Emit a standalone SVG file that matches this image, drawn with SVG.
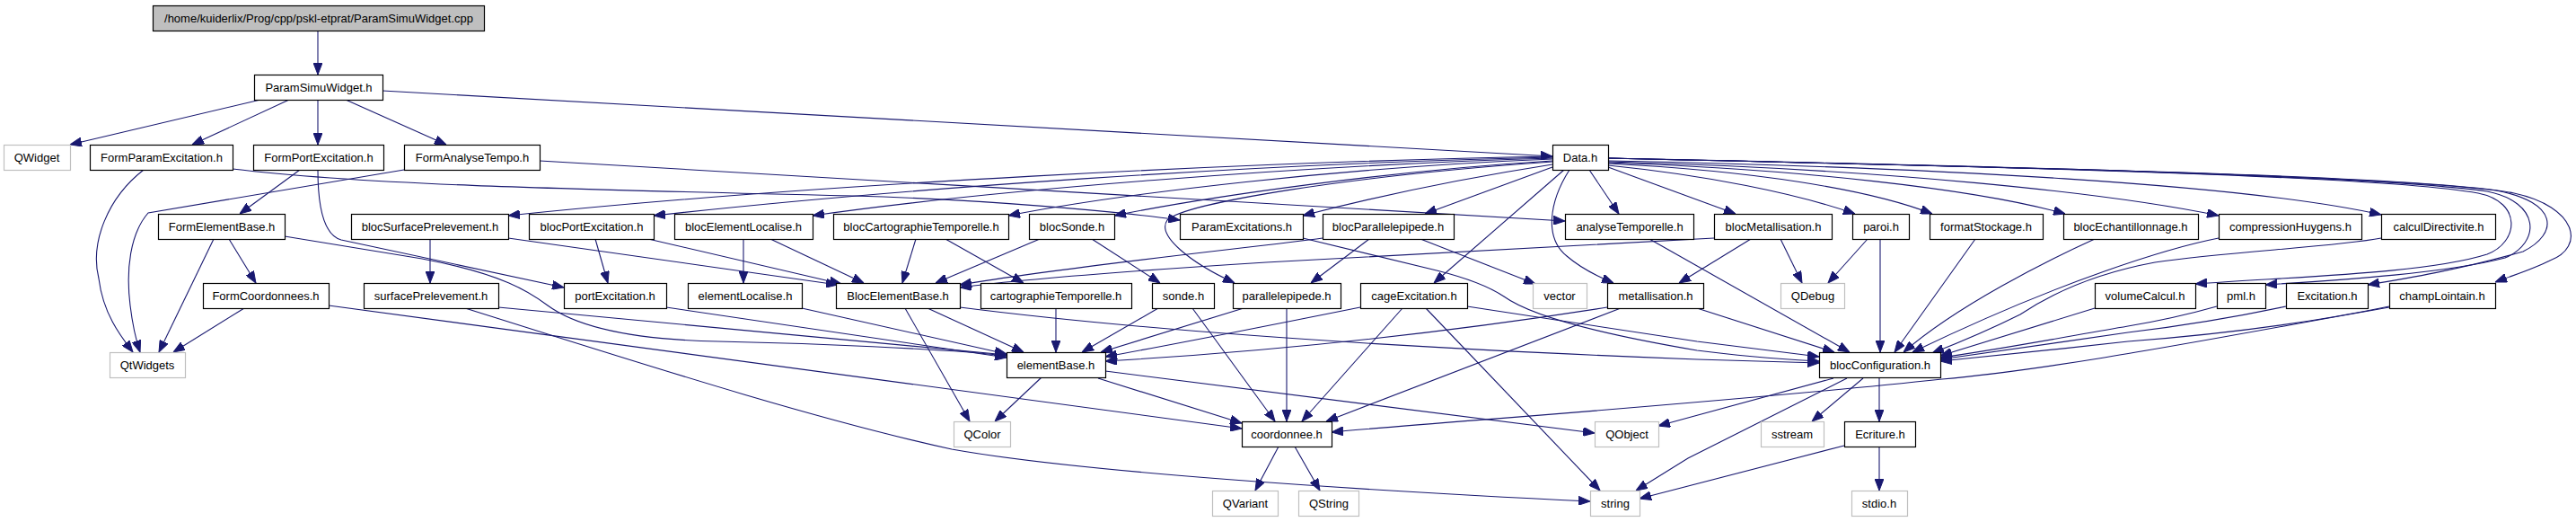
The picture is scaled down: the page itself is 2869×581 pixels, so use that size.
<svg xmlns="http://www.w3.org/2000/svg" width="2869" height="581" viewBox="0 0 2869 581">
<defs>
<marker id="a" markerWidth="13" markerHeight="10" refX="13" refY="5" orient="auto" markerUnits="userSpaceOnUse"><path d="M0,0 L13,5 L0,10 z" fill="#191970" stroke="#191970" stroke-width="1"/></marker>
<style>
.n rect{fill:#fff;stroke:#000;stroke-width:1.2}
.r rect{fill:#bfbfbf;stroke:#000;stroke-width:1.2}
.g rect{fill:#fff;stroke:#bfbfbf;stroke-width:1.2}
text{font-family:"Liberation Sans",Arial,sans-serif;font-size:13px;text-anchor:middle;fill:#000}
#edges path{fill:none;stroke:#191970;stroke-width:1.1;marker-end:url(#a)}
</style>
</defs>
<rect width="2869" height="581" fill="#fff"/>
<g id="edges">
<path d="M354,34 L354,83"/>
<path d="M290,111 L78,161"/>
<path d="M322,111 L214,161"/>
<path d="M354,111 L354,161"/>
<path d="M385,111 L497,161"/>
<path d="M426,101 L1729,174"/>
<path d="M160,189 C120,220 100,270 110,310 C115,350 135,375 148,392"/>
<path d="M259,188 C400,205 600,210 950,218 C1100,222 1250,236 1314,245"/>
<path d="M334,189 L267,238"/>
<path d="M354,189 C354,235 362,262 380,267 L628,320"/>
<path d="M450,189 L165,237 C145,260 140,300 145,340 C148,365 152,380 156,392"/>
<path d="M601,179 L1743,246"/>
<path d="M238,266 L177,392"/>
<path d="M255,266 L285,315"/>
<path d="M317,263 L470,288 C560,305 590,325 610,340 C640,362 700,378 800,380 C900,382 1050,388 1121,396"/>
<path d="M272,343 L193,392"/>
<path d="M366,340 L1383,477"/>
<path d="M1729,174 C1400,180 900,205 566,240"/>
<path d="M1729,175 C1400,182 1000,210 728,240"/>
<path d="M1729,176 C1450,184 1100,212 905,240"/>
<path d="M1729,177 C1500,186 1250,215 1123,240"/>
<path d="M1729,179 C1550,190 1350,218 1241,240"/>
<path d="M1729,183 C1620,200 1520,222 1451,240"/>
<path d="M1729,186 L1587,238"/>
<path d="M1729,180 C1500,196 1320,226 1300,245 C1288,262 1325,292 1375,315"/>
<path d="M1742,189 L1597,315"/>
<path d="M1770,189 L1803,238"/>
<path d="M1748,189 C1725,225 1720,265 1745,285 C1760,298 1780,308 1797,315"/>
<path d="M1791,186 L1933,238"/>
<path d="M1791,184 C1900,195 2000,215 2066,238"/>
<path d="M1791,182 C1950,190 2080,210 2152,238"/>
<path d="M1791,181 C2000,188 2200,210 2300,238"/>
<path d="M1791,180 C2100,188 2350,215 2471,240"/>
<path d="M1791,179 C2150,186 2500,205 2652,239"/>
<path d="M1791,176 C2200,185 2650,195 2760,215 C2810,225 2805,270 2770,283 C2700,305 2550,308 2445,316"/>
<path d="M1791,176 C2200,185 2650,195 2770,213 C2830,225 2830,270 2790,287 C2720,305 2600,312 2523,317"/>
<path d="M1791,176 C2200,185 2650,195 2780,212 C2850,225 2850,260 2810,280 C2740,300 2680,310 2637,317"/>
<path d="M1791,176 C2200,185 2700,195 2800,215 C2870,230 2880,275 2840,290 C2820,300 2800,306 2779,314"/>
<path d="M479,266 L479,315"/>
<path d="M566,265 L933,317"/>
<path d="M722,266 L937,316"/>
<path d="M858,266 L962,315"/>
<path d="M663,266 L677,315"/>
<path d="M828,266 L828,315"/>
<path d="M1020,266 L1005,315"/>
<path d="M1053,266 L1140,315"/>
<path d="M1158,266 L1042,315"/>
<path d="M1216,266 L1292,315"/>
<path d="M1451,265 L1600,301 C1640,311 1660,320 1675,330 C1700,348 1760,368 1890,390 C1950,398 1990,400 2026,402"/>
<path d="M1525,266 L1460,315"/>
<path d="M1582,266 L1710,316"/>
<path d="M1473,265 C1400,275 1200,295 1069,317"/>
<path d="M1909,265 C1700,276 1500,288 1410,292 C1250,302 1130,312 1069,320"/>
<path d="M1950,266 L1870,315"/>
<path d="M1983,266 L2007,315"/>
<path d="M2080,266 L2036,315"/>
<path d="M2094,266 L2094,392"/>
<path d="M2200,266 L2110,392"/>
<path d="M2333,266 C2280,290 2180,340 2120,392"/>
<path d="M2471,265 C2420,275 2300,310 2130,392"/>
<path d="M2652,265 C2600,275 2480,280 2400,292 C2330,305 2280,330 2250,350 C2210,370 2180,382 2152,393"/>
<path d="M2333,343 L2161,396"/>
<path d="M2469,341 C2430,352 2400,358 2370,363 C2300,375 2220,390 2161,398"/>
<path d="M2546,341 C2480,355 2420,364 2370,370 C2300,380 2220,392 2161,400"/>
<path d="M2661,341 C2560,362 2450,374 2370,380 C2300,388 2220,396 2161,402"/>
<path d="M2661,342 C2500,370 2300,410 2163,422 C1900,450 1600,470 1483,481"/>
<path d="M1837,266 L2060,392"/>
<path d="M555,342 L1121,395"/>
<path d="M518,343 C700,400 900,465 1060,500 C1200,525 1500,545 1771,558"/>
<path d="M742,342 L1121,398"/>
<path d="M893,343 L1121,394"/>
<path d="M1033,343 L1140,392"/>
<path d="M1008,343 L1080,469"/>
<path d="M1069,342 C1250,365 1500,385 1890,400 L2026,404"/>
<path d="M1176,343 L1176,392"/>
<path d="M1290,343 L1205,392"/>
<path d="M1328,343 L1420,469"/>
<path d="M1385,343 L1226,392"/>
<path d="M1433,343 L1433,469"/>
<path d="M1515,342 C1400,365 1300,385 1231,397"/>
<path d="M1562,343 L1450,469"/>
<path d="M1588,343 L1782,546"/>
<path d="M1634,341 L1890,380 L2026,397"/>
<path d="M1790,342 C1600,372 1400,392 1231,402"/>
<path d="M1805,343 L1477,469"/>
<path d="M1890,343 L2043,392"/>
<path d="M1160,420 L1108,469"/>
<path d="M1223,421 L1383,471"/>
<path d="M1231,413 L1776,482"/>
<path d="M1424,497 L1398,546"/>
<path d="M1442,497 L1470,546"/>
<path d="M2042,421 L1880,465 L1847,474"/>
<path d="M2057,421 L1880,510 L1822,546"/>
<path d="M2075,421 L2018,469"/>
<path d="M2093,420 L2093,469"/>
<path d="M2054,496 L1826,555"/>
<path d="M2093,497 L2093,546"/>
</g>
<g id="n0" class="r"><rect x="170.5" y="6.5" width="369" height="28"/><text x="355" y="25">/home/kuiderlix/Prog/cpp/pskl-etprat/ParamSimuWidget.cpp</text></g>
<g id="n1" class="n"><rect x="283.5" y="83.5" width="143" height="28"/><text x="355" y="102">ParamSimuWidget.h</text></g>
<g id="n2" class="g"><rect x="4.5" y="161.5" width="74" height="28"/><text x="41" y="180">QWidget</text></g>
<g id="n3" class="n"><rect x="100.5" y="161.5" width="159" height="28"/><text x="180" y="180">FormParamExcitation.h</text></g>
<g id="n4" class="n"><rect x="282.5" y="161.5" width="145" height="28"/><text x="355" y="180">FormPortExcitation.h</text></g>
<g id="n5" class="n"><rect x="450.5" y="161.5" width="151" height="28"/><text x="526" y="180">FormAnalyseTempo.h</text></g>
<g id="n6" class="n"><rect x="1729.5" y="161.5" width="62" height="28"/><text x="1760" y="180">Data.h</text></g>
<g id="n7" class="n"><rect x="176.5" y="238.5" width="141" height="28"/><text x="247" y="257">FormElementBase.h</text></g>
<g id="n8" class="n"><rect x="391.5" y="238.5" width="175" height="28"/><text x="479" y="257">blocSurfacePrelevement.h</text></g>
<g id="n9" class="n"><rect x="589.5" y="238.5" width="139" height="28"/><text x="659" y="257">blocPortExcitation.h</text></g>
<g id="n10" class="n"><rect x="751.5" y="238.5" width="154" height="28"/><text x="828" y="257">blocElementLocalise.h</text></g>
<g id="n11" class="n"><rect x="928.5" y="238.5" width="195" height="28"/><text x="1026" y="257">blocCartographieTemporelle.h</text></g>
<g id="n12" class="n"><rect x="1146.5" y="238.5" width="95" height="28"/><text x="1194" y="257">blocSonde.h</text></g>
<g id="n13" class="n"><rect x="1314.5" y="238.5" width="137" height="28"/><text x="1383" y="257">ParamExcitations.h</text></g>
<g id="n14" class="n"><rect x="1473.5" y="238.5" width="146" height="28"/><text x="1546" y="257">blocParallelepipede.h</text></g>
<g id="n15" class="n"><rect x="1743.5" y="238.5" width="143" height="28"/><text x="1815" y="257">analyseTemporelle.h</text></g>
<g id="n16" class="n"><rect x="1909.5" y="238.5" width="131" height="28"/><text x="1975" y="257">blocMetallisation.h</text></g>
<g id="n17" class="n"><rect x="2063.5" y="238.5" width="63" height="28"/><text x="2095" y="257">paroi.h</text></g>
<g id="n18" class="n"><rect x="2149.5" y="238.5" width="126" height="28"/><text x="2212" y="257">formatStockage.h</text></g>
<g id="n19" class="n"><rect x="2298.5" y="238.5" width="150" height="28"/><text x="2373" y="257">blocEchantillonnage.h</text></g>
<g id="n20" class="n"><rect x="2471.5" y="238.5" width="159" height="28"/><text x="2551" y="257">compressionHuygens.h</text></g>
<g id="n21" class="n"><rect x="2652.5" y="238.5" width="127" height="28"/><text x="2716" y="257">calculDirectivite.h</text></g>
<g id="n22" class="n"><rect x="226.5" y="315.5" width="140" height="28"/><text x="296" y="334">FormCoordonnees.h</text></g>
<g id="n23" class="n"><rect x="405.5" y="315.5" width="150" height="28"/><text x="480" y="334">surfacePrelevement.h</text></g>
<g id="n24" class="n"><rect x="628.5" y="315.5" width="114" height="28"/><text x="685" y="334">portExcitation.h</text></g>
<g id="n25" class="n"><rect x="766.5" y="315.5" width="127" height="28"/><text x="830" y="334">elementLocalise.h</text></g>
<g id="n26" class="n"><rect x="931.5" y="315.5" width="138" height="28"/><text x="1000" y="334">BlocElementBase.h</text></g>
<g id="n27" class="n"><rect x="1092.5" y="315.5" width="168" height="28"/><text x="1176" y="334">cartographieTemporelle.h</text></g>
<g id="n28" class="n"><rect x="1283.5" y="315.5" width="69" height="28"/><text x="1318" y="334">sonde.h</text></g>
<g id="n29" class="n"><rect x="1373.5" y="315.5" width="120" height="28"/><text x="1433" y="334">parallelepipede.h</text></g>
<g id="n30" class="n"><rect x="1515.5" y="315.5" width="119" height="28"/><text x="1575" y="334">cageExcitation.h</text></g>
<g id="n31" class="g"><rect x="1707.5" y="315.5" width="60" height="28"/><text x="1737" y="334">vector</text></g>
<g id="n32" class="n"><rect x="1790.5" y="315.5" width="107" height="28"/><text x="1844" y="334">metallisation.h</text></g>
<g id="n33" class="g"><rect x="1983.5" y="315.5" width="71" height="28"/><text x="2019" y="334">QDebug</text></g>
<g id="n34" class="n"><rect x="2333.5" y="315.5" width="112" height="28"/><text x="2389" y="334">volumeCalcul.h</text></g>
<g id="n35" class="n"><rect x="2469.5" y="315.5" width="54" height="28"/><text x="2496" y="334">pml.h</text></g>
<g id="n36" class="n"><rect x="2546.5" y="315.5" width="91" height="28"/><text x="2592" y="334">Excitation.h</text></g>
<g id="n37" class="n"><rect x="2661.5" y="315.5" width="118" height="28"/><text x="2720" y="334">champLointain.h</text></g>
<g id="n38" class="g"><rect x="122.5" y="392.5" width="84" height="28"/><text x="164" y="411">QtWidgets</text></g>
<g id="n39" class="n"><rect x="1121.5" y="392.5" width="110" height="28"/><text x="1176" y="411">elementBase.h</text></g>
<g id="n40" class="n"><rect x="2026.5" y="392.5" width="135" height="28"/><text x="2094" y="411">blocConfiguration.h</text></g>
<g id="n41" class="g"><rect x="1062.5" y="469.5" width="63" height="28"/><text x="1094" y="488">QColor</text></g>
<g id="n42" class="n"><rect x="1383.5" y="469.5" width="100" height="28"/><text x="1433" y="488">coordonnee.h</text></g>
<g id="n43" class="g"><rect x="1776.5" y="469.5" width="71" height="28"/><text x="1812" y="488">QObject</text></g>
<g id="n44" class="g"><rect x="1961.5" y="469.5" width="70" height="28"/><text x="1996" y="488">sstream</text></g>
<g id="n45" class="n"><rect x="2054.5" y="469.5" width="79" height="28"/><text x="2094" y="488">Ecriture.h</text></g>
<g id="n46" class="g"><rect x="1350.5" y="546.5" width="73" height="28"/><text x="1387" y="565">QVariant</text></g>
<g id="n47" class="g"><rect x="1446.5" y="546.5" width="67" height="28"/><text x="1480" y="565">QString</text></g>
<g id="n48" class="g"><rect x="1771.5" y="546.5" width="55" height="28"/><text x="1799" y="565">string</text></g>
<g id="n49" class="g"><rect x="2062.5" y="546.5" width="62" height="28"/><text x="2093" y="565">stdio.h</text></g>
</svg>
